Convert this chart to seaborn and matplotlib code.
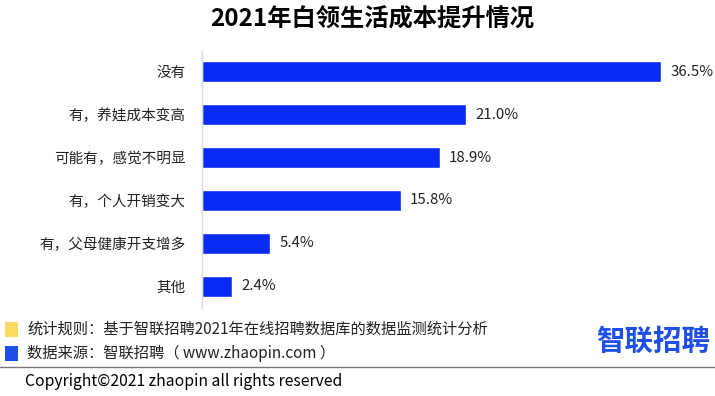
import pandas as pd
import seaborn as sns
import matplotlib.pyplot as plt
from matplotlib.patches import Rectangle

categories = ['没有', '有，养娃成本变高', '可能有，感觉不明显', '有，个人开销变大', '有，父母健康开支增多', '其他']
values = [36.5, 21.0, 18.9, 15.8, 5.4, 2.4]
value_labels = ['36.5%', '21.0%', '18.9%', '15.8%', '5.4%', '2.4%']

title = '2021年白领生活成本提升情况'
note_rule = '统计规则：基于智联招聘2021年在线招聘数据库的数据监测统计分析'
note_source = '数据来源：智联招聘（ www.zhaopin.com ）'
copyright_text = 'Copyright©2021 zhaopin all rights reserved'

bar_color = '#0A2BF5'

sns.set_theme(style='white')
plt.rcParams['font.family'] = ['Noto Sans CJK SC', 'DejaVu Sans']

df = pd.DataFrame({'cat': categories, 'val': values})

fig = plt.figure(figsize=(7.15, 3.96), dpi=100)
ax = fig.add_axes([202 / 715, 1 - 307.5 / 396, 1 - 202 / 715, 257 / 396])
sns.barplot(data=df, y='cat', x='val', color=bar_color, saturation=1, width=0.49, ax=ax)

ax.set_xlim(0, 40.8)
ax.set_ylim(5.5, -0.5)
ax.set_xlabel('')
ax.set_ylabel('')
ax.set_xticks([])
ax.tick_params(axis='y', length=0, labelsize=10.5, pad=12, colors='#222222')
for s in ['top', 'right', 'bottom']:
    ax.spines[s].set_visible(False)
ax.spines['left'].set_color('#d9d9d9')
ax.spines['left'].set_linewidth(1)

for i, (v, lab) in enumerate(zip(values, value_labels)):
    ax.text(v + 0.75, i, lab, va='center', ha='left', fontsize=10.8, color='#222222')

fig.text(0.52, 1 - 20 / 396, title, ha='center', va='center', fontsize=17.5, fontweight='bold', color='black')

# footer notes
fig.patches.append(Rectangle((5 / 715, 1 - 337 / 396), 13 / 715, 15 / 396, transform=fig.transFigure,
                             facecolor='#FFD966', edgecolor='none'))
fig.patches.append(Rectangle((5 / 715, 1 - 361 / 396), 13 / 715, 15 / 396, transform=fig.transFigure,
                             facecolor='#1F4FE8', edgecolor='none'))
fig.text(27 / 715, 1 - 329 / 396, note_rule, ha='left', va='center', fontsize=11, color='#222222')
fig.text(27 / 715, 1 - 353 / 396, note_source, ha='left', va='center', fontsize=11, color='#222222')
fig.text(710 / 715, 1 - 342 / 396, '智联招聘', ha='right', va='center', fontsize=20.5, fontweight='bold', color='#1F4FE8')

fig.add_artist(plt.Line2D([0, 1], [1 - 367 / 396, 1 - 367 / 396], transform=fig.transFigure, color='#777777', lw=1))
fig.text(25 / 715, 1 - 381 / 396, copyright_text, ha='left', va='center', fontsize=11.3, color='black')

fig.savefig('out.png', dpi=100)
